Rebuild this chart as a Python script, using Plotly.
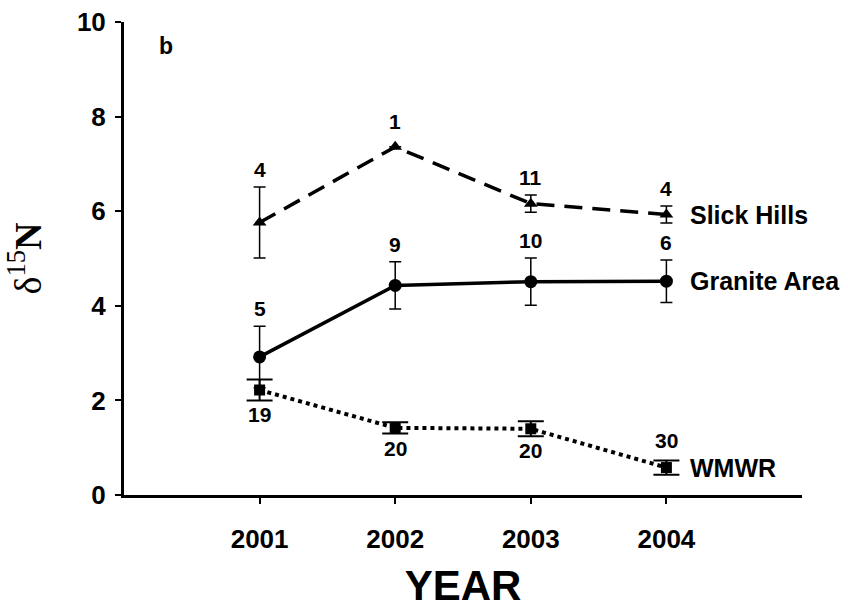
import plotly.graph_objects as go

years = [2001, 2002, 2003, 2004]

slick_mean = [5.76, 7.36, 6.16, 5.93]
slick_err = [0.75, 0.0, 0.18, 0.18]
slick_n = ["4", "1", "11", "4"]

granite_mean = [2.92, 4.43, 4.51, 4.52]
granite_err = [0.65, 0.5, 0.5, 0.45]
granite_n = ["5", "9", "10", "6"]

wmwr_mean = [2.22, 1.42, 1.40, 0.58]
wmwr_err = [0.22, 0.12, 0.16, 0.15]
wmwr_n = ["19", "20", "20", "30"]
wmwr_n_pos = ["below", "below", "below", "above"]

series_names = ["Slick Hills", "Granite Area", "WMWR"]

FONT = "Arial, Liberation Sans, sans-serif"

fig = go.Figure()

fig.add_trace(go.Scatter(
    x=years, y=slick_mean, mode="lines+markers",
    line=dict(color="black", width=3.5, dash="18px,10px"),
    marker=dict(symbol="triangle-up", size=12, color="black"),
    error_y=dict(type="data", array=slick_err, color="black", thickness=1.5, width=6),
    showlegend=False))

fig.add_trace(go.Scatter(
    x=years, y=granite_mean, mode="lines+markers",
    line=dict(color="black", width=3.5),
    marker=dict(symbol="circle", size=13, color="black"),
    error_y=dict(type="data", array=granite_err, color="black", thickness=1.5, width=6),
    showlegend=False))

fig.add_trace(go.Scatter(
    x=years, y=wmwr_mean, mode="lines+markers",
    line=dict(color="black", width=4, dash="dot"),
    marker=dict(symbol="square", size=11, color="black"),
    error_y=dict(type="data", array=wmwr_err, color="black", thickness=2, width=13),
    showlegend=False))

NFONT = dict(family=FONT, size=21, color="black", weight="bold")
annotations = []
for labels, m, e in [(slick_n, slick_mean, slick_err), (granite_n, granite_mean, granite_err)]:
    for x, mv, ev, t in zip(years, m, e, labels):
        annotations.append(dict(x=x, y=mv + ev, text=t, showarrow=False,
                                yanchor="bottom", yshift=4 if ev > 0 else 12,
                                font=NFONT))
for x, mv, ev, t, pos in zip(years, wmwr_mean, wmwr_err, wmwr_n, wmwr_n_pos):
    if pos == "below":
        annotations.append(dict(x=x, y=mv - ev, text=t, showarrow=False,
                                yanchor="top", yshift=-1, font=NFONT))
    else:
        annotations.append(dict(x=x, y=mv + ev, text=t, showarrow=False,
                                yanchor="bottom", yshift=6, font=NFONT))

for name, m in zip(series_names, [slick_mean, granite_mean, wmwr_mean]):
    annotations.append(dict(x=years[-1], y=m[-1], text=name, showarrow=False,
                            xanchor="left", xshift=22, yanchor="middle",
                            font=dict(family=FONT, size=25, color="black", weight="bold")))

annotations.append(dict(x=0.062, y=0.95, xref="paper", yref="paper", text="b",
                        showarrow=False, xanchor="center", yanchor="middle",
                        font=dict(family=FONT, size=23, color="black", weight="bold")))

fig.update_layout(
    width=848, height=611,
    margin=dict(l=124, r=46, t=22, b=116),
    paper_bgcolor="white", plot_bgcolor="white",
    annotations=annotations,
    xaxis=dict(range=[2000, 2005], tickvals=years, ticktext=[str(y) for y in years],
               automargin=False,
               showline=True, linecolor="black", linewidth=3,
               ticks="outside", ticklen=6, tickwidth=1.5, tickcolor="black",
               showgrid=False, zeroline=False, ticklabelstandoff=13,
               tickfont=dict(family=FONT, size=26, color="black", weight="bold"),
               title=dict(text="YEAR", standoff=18,
                          font=dict(family=FONT, size=42, color="black", weight="bold"))),
    yaxis=dict(range=[0, 10], tickvals=[0, 2, 4, 6, 8, 10],
               automargin=False,
               showline=True, linecolor="black", linewidth=3,
               ticks="outside", ticklen=6, tickwidth=1.5, tickcolor="black",
               showgrid=False, zeroline=False, ticklabelstandoff=4,
               tickfont=dict(family=FONT, size=26, color="black", weight="bold"),
               title=dict(text="δ<sup>15</sup><b>N</b>", standoff=24,
                          font=dict(family="Times New Roman, Liberation Serif, serif", size=38, color="black"))),
)

fig.write_html("out.html")
